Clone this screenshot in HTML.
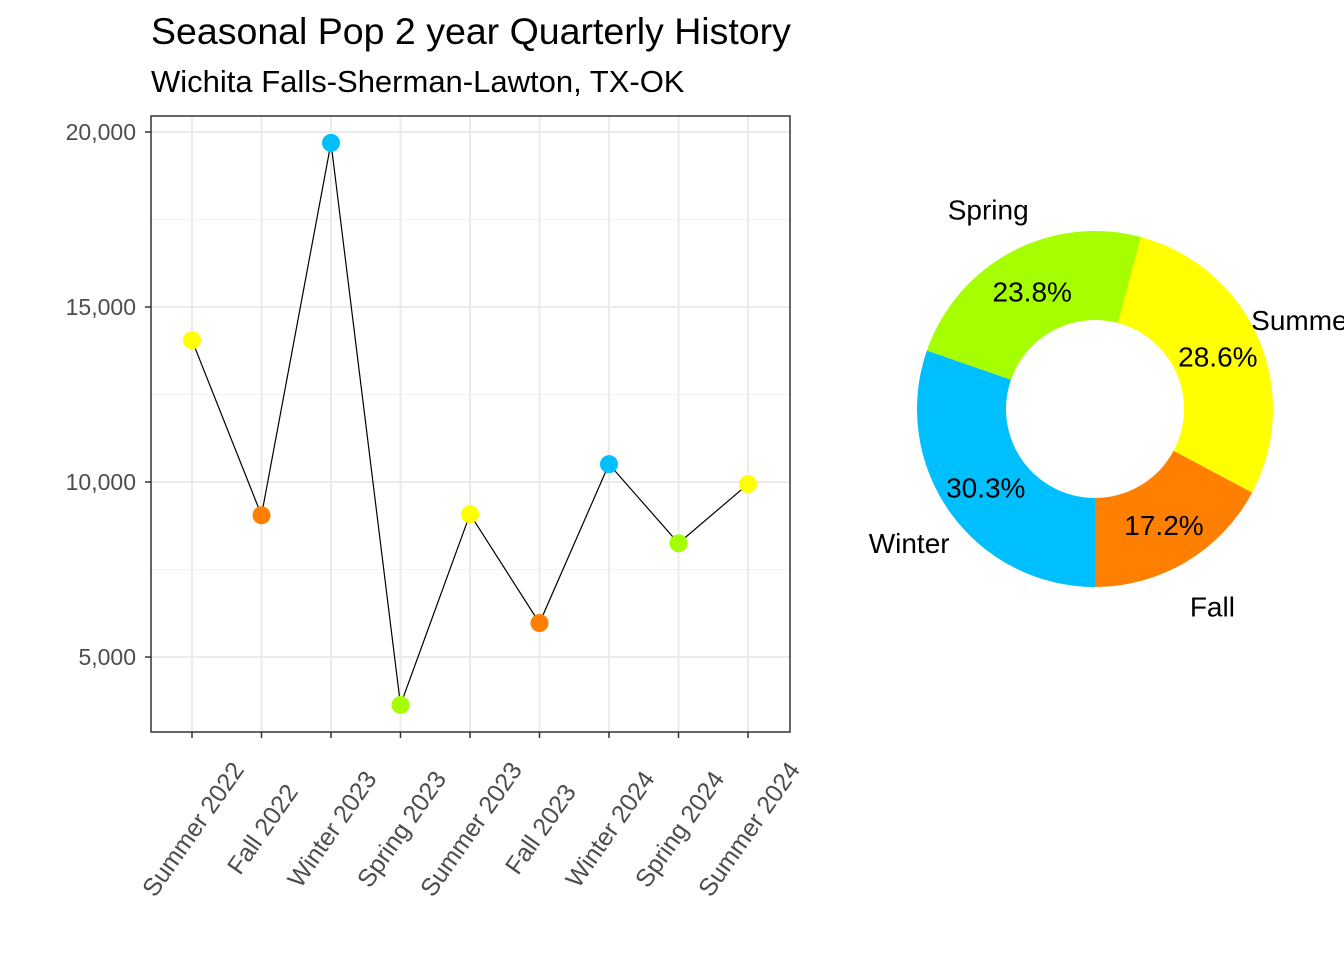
<!DOCTYPE html>
<html><head><meta charset="utf-8"><style>
body{margin:0;background:#fff;}
svg{display:block;font-family:"Liberation Sans",Arial,sans-serif;}
</style></head><body>
<svg id="chart" width="1344" height="960" viewBox="0 0 1344 960">
<text x="151" y="44" font-size="37.5" fill="#000">Seasonal Pop 2 year Quarterly History</text>
<text x="151" y="92" font-size="31" fill="#000">Wichita Falls-Sherman-Lawton, TX-OK</text>
<g id="line-panel"></g>
<g id="donut"></g>
</svg>
<script>
const categories=["Summer 2022","Fall 2022","Winter 2023","Spring 2023","Summer 2023","Fall 2023","Winter 2024","Spring 2024","Summer 2024"];
const seasons=["Summer","Fall","Winter","Spring","Summer","Fall","Winter","Spring","Summer"];
const values=[14050,9050,19690,3630,9080,5970,10510,8250,9940];
const yTicks=[5000,10000,15000,20000];
const yTickLabels=["5,000","10,000","15,000","20,000"];
const pieSeasons=["Winter","Spring","Summer","Fall"];
const pieShares=[30.3,23.8,28.6,17.2];
const pieLabels=["30.3%","23.8%","28.6%","17.2%"];
const colors={Summer:"#FFFF00",Fall:"#FF8000",Winter:"#00BFFF",Spring:"#A6FF00"};
const NS="http://www.w3.org/2000/svg";
function mk(tag,attrs,parent){const e=document.createElementNS(NS,tag);for(const k in attrs)e.setAttribute(k,attrs[k]);parent.appendChild(e);return e;}
const P={l:151,r:790,t:116,b:732};
const x=i=>192+i*(748-192)/(categories.length-1);
const y=v=>482-(v-10000)*0.035;
const g=document.getElementById('line-panel');
for(let i=0;i<yTicks.length-1;i++){const m=(yTicks[i]+yTicks[i+1])/2;const l=mk('line',{x1:P.l,x2:P.r,y1:y(m),y2:y(m),stroke:'#f2f2f2','stroke-width':1},g);

}
yTicks.forEach((t,i)=>{const l=mk('line',{x1:P.l,x2:P.r,y1:y(t),y2:y(t),stroke:'#ebebeb','stroke-width':2},g);


const tk=mk('line',{x1:P.l-6,x2:P.l,y1:y(t),y2:y(t),stroke:'#333','stroke-width':1.5},g);


const tx=mk('text',{x:P.l-15,y:y(t)+8,'text-anchor':'end','font-size':23,fill:'#4d4d4d'},g);tx.textContent=yTickLabels[i];

});
categories.forEach((c,i)=>{const l=mk('line',{x1:x(i),x2:x(i),y1:P.t,y2:P.b,stroke:'#ebebeb','stroke-width':2},g);


const tk=mk('line',{x1:x(i),x2:x(i),y1:P.b,y2:P.b+6,stroke:'#333','stroke-width':1.5},g);


const tx=mk('text',{x:0,y:0,'text-anchor':'middle','font-size':25,fill:'#4d4d4d',transform:`translate(${x(i)+8},${834}) rotate(-55)`},g);tx.textContent=c;

});
const fr=mk('rect',{x:P.l,y:P.t,width:P.r-P.l,height:P.b-P.t,fill:'none',stroke:'#333','stroke-width':1.5},g);


const pl=mk('polyline',{points:values.map((v,i)=>x(i)+','+y(v)).join(' '),fill:'none',stroke:'#000','stroke-width':1.2},g);


values.forEach((v,i)=>{const c=mk('circle',{cx:x(i),cy:y(v),r:9,fill:colors[seasons[i]]},g);

});
const d=document.getElementById('donut');
const cx=1095,cy=409,R=178,r0=89,rl=134,ro=228;
const pt=(a,rad)=>[cx+rad*Math.sin(a*Math.PI/180),cy-rad*Math.cos(a*Math.PI/180)];
const total=pieShares.reduce((a,b)=>a+b,0);
let a=180;
pieShares.forEach((s,i)=>{const sweep=s/total*360,a2=a+sweep,lg=sweep>180?1:0;
const [x1,y1]=pt(a,R),[x2,y2]=pt(a2,R),[x3,y3]=pt(a2,r0),[x4,y4]=pt(a,r0);
const p=mk('path',{d:`M${x1},${y1} A${R},${R} 0 ${lg} 1 ${x2},${y2} L${x3},${y3} A${r0},${r0} 0 ${lg} 0 ${x4},${y4} Z`,fill:colors[pieSeasons[i]]},d);


const m=a+sweep/2;const [lx,ly]=pt(m,rl);
const t=mk('text',{x:lx,y:ly+11,'text-anchor':'middle','font-size':28,fill:'#000'},d);t.textContent=pieLabels[i];


const [ox,oy]=pt(m,ro);
const t2=mk('text',{x:ox,y:oy+12,'text-anchor':'middle','font-size':28,fill:'#000'},d);t2.textContent=pieSeasons[i];


a=a2;});
</script>
</body></html>
